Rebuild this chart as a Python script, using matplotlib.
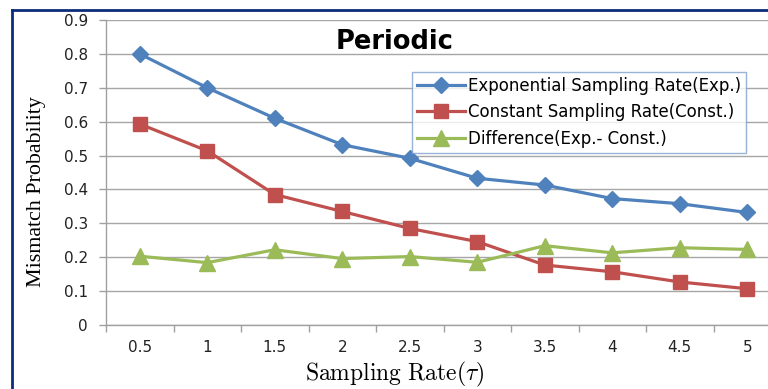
import matplotlib
matplotlib.use("Agg")
import matplotlib.pyplot as plt
from matplotlib.lines import Line2D

# data
rates = ["0.5", "1", "1.5", "2", "2.5", "3", "3.5", "4", "4.5", "5"]
exp_rate = [0.80, 0.70, 0.610, 0.532, 0.492, 0.433, 0.413, 0.373, 0.358, 0.332]
const_rate = [0.593, 0.514, 0.385, 0.335, 0.285, 0.246, 0.177, 0.157, 0.127, 0.107]
difference = [0.203, 0.184, 0.222, 0.196, 0.202, 0.185, 0.234, 0.213, 0.228, 0.223]

y_ticks = [0, 0.1, 0.2, 0.3, 0.4, 0.5, 0.6, 0.7, 0.8, 0.9]
y_labels = ["0", "0.1", "0.2", "0.3", "0.4", "0.5", "0.6", "0.7", "0.8", "0.9"]

plt.rcParams["mathtext.fontset"] = "cm"

fig = plt.figure(figsize=(7.68, 3.89), dpi=100)
W, H = 768, 389

# axes box runs off the right edge like the source screenshot
ax = fig.add_axes([106 / W, (H - 325) / H, 675 / W, 305 / H])

x = list(range(len(rates)))

ax.plot(x, exp_rate, color="#4F81BD", lw=2.3, marker="D", ms=8.5,
        label="Exponential Sampling Rate(Exp.)", zorder=3)
ax.plot(x, const_rate, color="#C0504D", lw=2.3, marker="s", ms=10,
        label="Constant Sampling Rate(Const.)", zorder=3)
ax.plot(x, difference, color="#9BBB59", lw=2.3, marker="^", ms=11.5,
        label="Difference(Exp.- Const.)", zorder=3)

ax.set_xlim(-0.5, len(rates) - 0.5)
ax.set_ylim(0, 0.9)

ax.set_yticks(y_ticks)
ax.set_yticklabels(y_labels, fontsize=11, color="#222222")
ax.tick_params(axis="y", length=5, width=1, color="#A0A0A0", pad=8)

ax.set_xticks(x)
ax.set_xticklabels(rates, fontsize=11, color="#222222")
ax.set_xticks([i - 0.5 for i in range(len(rates) + 1)], minor=True)
ax.tick_params(axis="x", which="major", length=0, pad=11)
ax.tick_params(axis="x", which="minor", length=5, width=1, color="#A0A0A0")

ax.grid(axis="y", color="#A6A6A6", lw=1)
ax.set_axisbelow(True)
for side in ["top", "right"]:
    ax.spines[side].set_visible(False)
for side in ["left", "bottom"]:
    ax.spines[side].set_color("#A0A0A0")
    ax.spines[side].set_linewidth(1)

ax.set_ylabel("Mismatch Probability", family="Liberation Serif", fontsize=15.8)
ax.yaxis.set_label_coords(-0.089, (325 - 192) / 305)
ax.set_xlabel(r"$\mathrm{Sampling\ Rate}(\tau)$", fontsize=17)
ax.xaxis.set_label_coords((395 - 106) / 675, -(360 - 325) / 305)

fig.text(395 / W, 1 - 42 / H, "Periodic", fontsize=18.5, fontweight="bold",
         ha="center", va="center")

leg = ax.legend(loc="upper left", bbox_to_anchor=((412 - 106) / 675, (325 - 72) / 305),
                fontsize=12, frameon=True, fancybox=False, borderpad=0.3,
                handlelength=2.9, labelspacing=0.5, handletextpad=0.15,
                borderaxespad=0)
leg.get_frame().set_edgecolor("#7F9FCF")
leg.get_frame().set_linewidth(1)

# dark frame around the whole picture (only top and left are visible)
fig.add_artist(Line2D([12 / W, 1], [1 - 10 / H, 1 - 10 / H], color="#0D2D7A", lw=2))
fig.add_artist(Line2D([12 / W, 12 / W], [0, 1 - 10 / H], color="#0D2D7A", lw=2))

fig.savefig("out.png", dpi=100)
